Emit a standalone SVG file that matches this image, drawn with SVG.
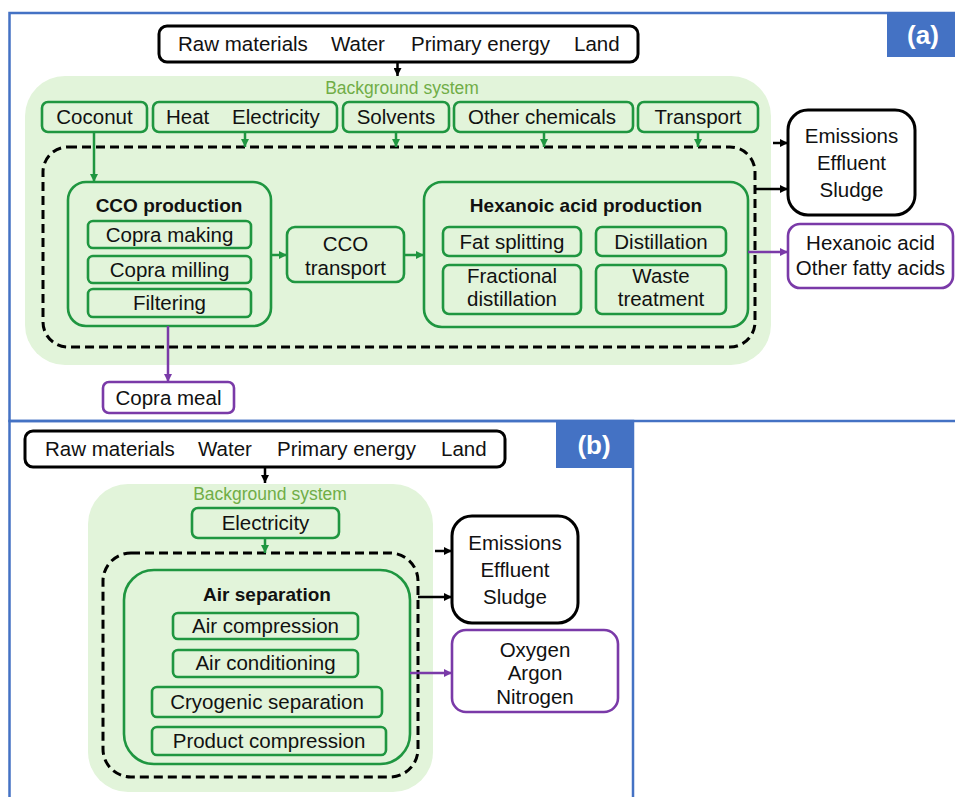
<svg xmlns="http://www.w3.org/2000/svg" width="955" height="797" viewBox="0 0 955 797">
<defs>
<style>
text{font-family:"Liberation Sans",Arial,sans-serif;font-size:20.5px;fill:#111;}
.c{text-anchor:middle;}
.b{font-weight:bold;font-size:19px;}
.bgt{fill:#70ad47;font-size:17.5px;text-anchor:middle;}
.lab{fill:#fff;font-weight:bold;font-size:26px;text-anchor:middle;}
.frame{fill:none;stroke:#4472c4;stroke-width:2.5;}
.labbox{fill:#4472c4;}
.bg{fill:#e2f4da;}
.blk{fill:#fff;stroke:#000;stroke-width:3;}
.grn{fill:none;stroke:#1f9640;stroke-width:2.6;}
.pur{fill:#fff;stroke:#7a3aa8;stroke-width:2.6;}
.dash{fill:none;stroke:#000;stroke-width:3;stroke-dasharray:9 5;}
.ak{stroke:#000;stroke-width:2.5;fill:none;marker-end:url(#mk);}
.ag{stroke:#1f9640;stroke-width:2.5;fill:none;marker-end:url(#mg);}
.ap{stroke:#7a3aa8;stroke-width:2.5;fill:none;marker-end:url(#mp);}
</style>
<marker id="mk" viewBox="0 0 10 10" refX="10" refY="5" markerWidth="8" markerHeight="8" markerUnits="userSpaceOnUse" orient="auto"><path d="M0,0L10,5L0,10z" fill="#000"/></marker>
<marker id="mg" viewBox="0 0 10 10" refX="10" refY="5" markerWidth="8" markerHeight="8" markerUnits="userSpaceOnUse" orient="auto"><path d="M0,0L10,5L0,10z" fill="#1f9640"/></marker>
<marker id="mp" viewBox="0 0 10 10" refX="10" refY="5" markerWidth="8" markerHeight="8" markerUnits="userSpaceOnUse" orient="auto"><path d="M0,0L10,5L0,10z" fill="#7a3aa8"/></marker>
</defs>
<rect width="955" height="797" fill="#fff"/>

<!-- Panel frames -->
<g id="panel-a-frame">
<rect class="frame" x="9.5" y="13" width="960" height="408"/>
<rect class="labbox" x="887" y="13" width="70" height="44"/>
<text class="lab" x="923" y="44">(a)</text>
</g>
<g id="panel-b-frame">
<rect class="frame" x="9.5" y="421" width="623.5" height="400"/>
<rect class="labbox" x="556" y="421" width="77" height="47"/>
<text class="lab" x="594" y="454">(b)</text>
</g>

<!-- Panel (a) -->
<g id="a-background">
<rect class="bg" x="25" y="76" width="746" height="289" rx="40"/>
<text class="bgt" x="402" y="94">Background system</text>
</g>
<g id="a-foreground">
<rect class="dash" x="43" y="147" width="712" height="200" rx="25"/>
</g>
<g id="a-inputs">
<rect class="blk" x="159" y="26" width="479" height="36" rx="8"/>
<text y="51"><tspan x="178">Raw materials</tspan><tspan x="331">Water</tspan><tspan x="411">Primary energy</tspan><tspan x="574">Land</tspan></text>
</g>
<g id="a-coconut"><rect class="grn" x="42" y="102" width="105" height="30" rx="6"/><text class="c" x="94.5" y="124">Coconut</text></g>
<g id="a-heat"><rect class="grn" x="153" y="102" width="184" height="30" rx="6"/><text y="124"><tspan x="166">Heat</tspan><tspan x="232">Electricity</tspan></text></g>
<g id="a-solvents"><rect class="grn" x="343" y="102" width="106" height="30" rx="6"/><text class="c" x="396" y="124">Solvents</text></g>
<g id="a-chemicals"><rect class="grn" x="454" y="102" width="179" height="30" rx="6"/><text class="c" x="542" y="124">Other chemicals</text></g>
<g id="a-transport"><rect class="grn" x="638" y="102" width="120" height="30" rx="6"/><text class="c" x="698" y="124">Transport</text></g>

<g id="a-cco-production">
<rect class="grn" x="68" y="182" width="203" height="144" rx="18"/>
<text class="c b" x="169" y="212">CCO production</text>
<rect class="grn" x="88" y="221" width="163" height="27" rx="5"/><text class="c" x="169.5" y="242">Copra making</text>
<rect class="grn" x="88" y="256" width="163" height="27" rx="5"/><text class="c" x="169.5" y="277">Copra milling</text>
<rect class="grn" x="88" y="289" width="163" height="28" rx="5"/><text class="c" x="169.5" y="310">Filtering</text>
</g>
<g id="a-cco-transport">
<rect class="grn" x="287" y="227" width="117" height="55" rx="8"/>
<text class="c" x="345.5" y="251">CCO</text>
<text class="c" x="345.5" y="275">transport</text>
</g>
<g id="a-hexanoic-production">
<rect class="grn" x="424" y="182" width="324" height="145" rx="18"/>
<text class="c b" x="586" y="212">Hexanoic acid production</text>
<rect class="grn" x="443" y="227" width="138" height="29" rx="6"/><text class="c" x="512" y="249">Fat splitting</text>
<rect class="grn" x="596" y="227" width="130" height="29" rx="6"/><text class="c" x="661" y="249">Distillation</text>
<rect class="grn" x="443" y="265" width="138" height="49" rx="6"/><text class="c" x="512" y="283">Fractional</text><text class="c" x="512" y="306">distillation</text>
<rect class="grn" x="596" y="265" width="130" height="49" rx="6"/><text class="c" x="661" y="283">Waste</text><text class="c" x="661" y="306">treatment</text>
</g>
<g id="a-emissions">
<rect class="blk" x="788" y="110" width="127" height="105" rx="20"/>
<text class="c" x="851.5" y="143">Emissions</text>
<text class="c" x="851.5" y="170">Effluent</text>
<text class="c" x="851.5" y="197">Sludge</text>
</g>
<g id="a-products">
<rect class="pur" x="788" y="224" width="165" height="64" rx="12"/>
<text class="c" x="870.5" y="250">Hexanoic acid</text>
<text class="c" x="870.5" y="275">Other fatty acids</text>
</g>
<g id="a-copra-meal">
<rect class="pur" x="103" y="382" width="131" height="31" rx="6"/>
<text class="c" x="168.5" y="405">Copra meal</text>
</g>

<!-- Panel (b) -->
<g id="b-background">
<rect class="bg" x="88" y="484" width="345" height="308" rx="40"/>
<text class="bgt" x="270" y="500">Background system</text>
</g>
<g id="b-foreground">
<rect class="dash" x="103" y="553" width="315" height="224" rx="28"/>
</g>
<g id="b-inputs">
<rect class="blk" x="25" y="431" width="480" height="36" rx="8"/>
<text y="456"><tspan x="45">Raw materials</tspan><tspan x="198">Water</tspan><tspan x="277">Primary energy</tspan><tspan x="441">Land</tspan></text>
</g>
<g id="b-electricity"><rect class="grn" x="192" y="508" width="147" height="30" rx="6"/><text class="c" x="265.5" y="530">Electricity</text></g>
<g id="b-air-separation">
<rect class="grn" x="124" y="570" width="286" height="194" rx="30"/>
<text class="c b" x="267" y="601">Air separation</text>
<rect class="grn" x="173" y="613" width="185" height="26" rx="5"/><text class="c" x="265.5" y="633">Air compression</text>
<rect class="grn" x="173" y="650" width="185" height="27" rx="5"/><text class="c" x="265.5" y="670">Air conditioning</text>
<rect class="grn" x="152" y="687" width="230" height="30" rx="5"/><text class="c" x="267" y="709">Cryogenic separation</text>
<rect class="grn" x="152" y="727" width="234" height="28" rx="5"/><text class="c" x="269" y="748">Product compression</text>
</g>
<g id="b-emissions">
<rect class="blk" x="452" y="516" width="126" height="107" rx="20"/>
<text class="c" x="515" y="550">Emissions</text>
<text class="c" x="515" y="577">Effluent</text>
<text class="c" x="515" y="604">Sludge</text>
</g>
<g id="b-products">
<rect class="pur" x="452" y="630" width="166" height="82" rx="14"/>
<text class="c" x="535" y="657">Oxygen</text>
<text class="c" x="535" y="680">Argon</text>
<text class="c" x="535" y="704">Nitrogen</text>
</g>

<!-- Connectors -->
<g id="connectors">
<line class="ak" x1="397.5" y1="62" x2="397.5" y2="76"/>
<line class="ag" x1="94" y1="132" x2="94" y2="182"/>
<line class="ag" x1="245" y1="132" x2="245" y2="147"/>
<line class="ag" x1="396" y1="132" x2="396" y2="147"/>
<line class="ag" x1="544" y1="132" x2="544" y2="147"/>
<line class="ag" x1="698" y1="132" x2="698" y2="147"/>
<line class="ag" x1="271" y1="255" x2="287" y2="255"/>
<line class="ag" x1="404" y1="255" x2="424" y2="255"/>
<line class="ak" x1="773" y1="143" x2="788" y2="143"/>
<line class="ak" x1="755" y1="189" x2="788" y2="189"/>
<line class="ap" x1="748" y1="252" x2="788" y2="252"/>
<line class="ap" x1="168" y1="326" x2="168" y2="382"/>
<line class="ak" x1="265" y1="467" x2="265" y2="483"/>
<line class="ag" x1="265" y1="538" x2="265" y2="553"/>
<line class="ak" x1="435" y1="551" x2="452" y2="551"/>
<line class="ak" x1="418" y1="597" x2="452" y2="597"/>
<line class="ap" x1="410" y1="673" x2="452" y2="673"/>
</g>
</svg>
